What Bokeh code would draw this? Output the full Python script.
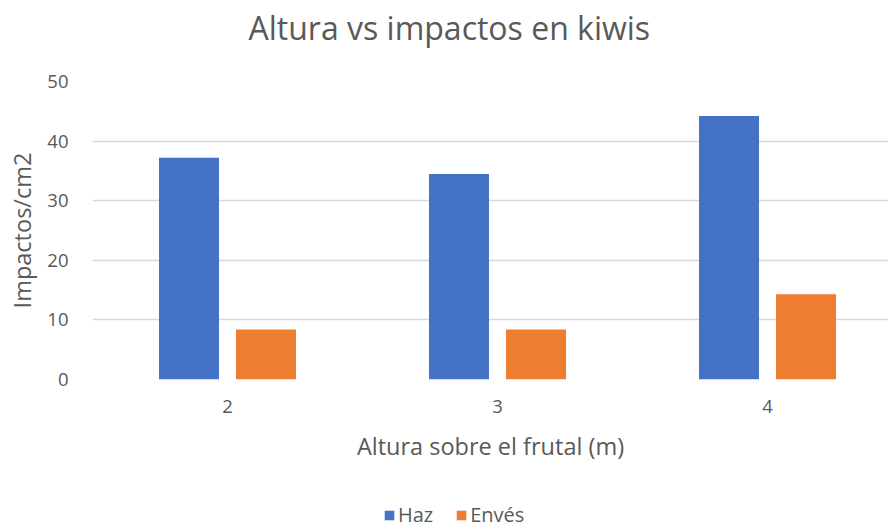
from bokeh.plotting import figure
from bokeh.layouts import column
from bokeh.models import ColumnDataSource, Legend, LegendItem, FixedTicker, Range1d, Title
from bokeh.transform import dodge
from bokeh.embed import file_html
from bokeh.resources import INLINE

alturas = [2, 3, 4]
tick_labels = ["2", "3", "4"]
haz = [37.2, 34.5, 44.2]
enves = [8.4, 8.4, 14.3]
y_ticks = [0, 10, 20, 30, 40, 50]
series = ["Haz", "Envés"]

src = ColumnDataSource(dict(altura=alturas, haz=haz, enves=enves))

FONT = "Open Sans"
GRAY = "#595959"
BLUE = "#4472C4"
ORANGE = "#ED7D31"

p = figure(width=888, height=492, output_backend="svg", toolbar_location=None,
           x_range=Range1d(1.5, 4.448), y_range=Range1d(0, 50),
           min_border_left=92, min_border_right=0, min_border_top=81,
           min_border_bottom=113)
p.outline_line_color = None

# spacer panel between the frame and the title
spacer = Title(text=" ", text_font_size="10px", standoff=19.5)
p.add_layout(spacer, "above")

p.title.text = "Altura vs impactos en kiwis"
p.title.align = "left"
p.title.offset = 156
p.title.text_font = FONT
p.title.text_font_size = "32px"
p.title.text_color = GRAY
p.title.text_font_style = "normal"
p.title.standoff = 0

r1 = p.vbar(x=dodge("altura", -0.1426, range=p.x_range), top="haz", width=0.2222,
            source=src, fill_color=BLUE, line_color=None)
r2 = p.vbar(x=dodge("altura", 0.1426, range=p.x_range), top="enves", width=0.2222,
            source=src, fill_color=ORANGE, line_color=None)

p.xaxis.ticker = FixedTicker(ticks=alturas)
p.xaxis.major_label_overrides = {a: l for a, l in zip(alturas, tick_labels)}
p.yaxis.ticker = FixedTicker(ticks=y_ticks)

for ax in (p.xaxis[0], p.yaxis[0]):
    ax.axis_line_color = None
    ax.major_tick_line_color = None
    ax.minor_tick_line_color = None
    ax.major_tick_out = 0
    ax.major_tick_in = 0
    ax.minor_tick_out = 0
    ax.major_label_text_font = FONT
    ax.major_label_text_font_size = "18.5px"
    ax.major_label_text_color = GRAY
    ax.axis_label_text_font = FONT
    ax.axis_label_text_font_size = "23.5px"
    ax.axis_label_text_color = GRAY
    ax.axis_label_text_font_style = "normal"

p.xaxis.axis_label = "Altura sobre el frutal (m)"
p.yaxis.axis_label = "Impactos/cm2"
p.xaxis.major_label_standoff = 20
p.xaxis.axis_label_standoff = 14
p.yaxis.major_label_standoff = 24
p.yaxis.axis_label_standoff = 6

p.xgrid.grid_line_color = None
p.ygrid.grid_line_color = "#d9d9d9"
p.ygrid.grid_line_width = 1.5

# legend strip below the chart: zero-height swatch renderers (nothing visible drawn)
lg = figure(width=888, height=36, output_backend="svg", toolbar_location=None,
            x_range=Range1d(0, 1), y_range=Range1d(0, 1),
            x_axis_type=None, y_axis_type=None,
            min_border_left=0, min_border_right=0, min_border_top=0, min_border_bottom=0)
lg.outline_line_color = None
lg.xgrid.grid_line_color = None
lg.ygrid.grid_line_color = None
swatch = ColumnDataSource(dict(x=[0.5], top=[0]))
l1 = lg.vbar(x="x", top="top", width=0.01, source=swatch, fill_color=BLUE, line_color=None)
l2 = lg.vbar(x="x", top="top", width=0.01, source=swatch, fill_color=ORANGE, line_color=None)

legend = Legend(items=[LegendItem(label=series[0], renderers=[l1]),
                       LegendItem(label=series[1], renderers=[l2])],
                orientation="horizontal", location=(291, 0),
                label_text_font=FONT, label_text_font_size="20px",
                label_text_color=GRAY, glyph_width=12, glyph_height=12,
                label_standoff=3, spacing=22, padding=0, margin=0,
                border_line_color=None, background_fill_alpha=0)
lg.add_layout(legend, "center")

open("out.html", "w").write(file_html(column(p, lg, spacing=0), INLINE))
